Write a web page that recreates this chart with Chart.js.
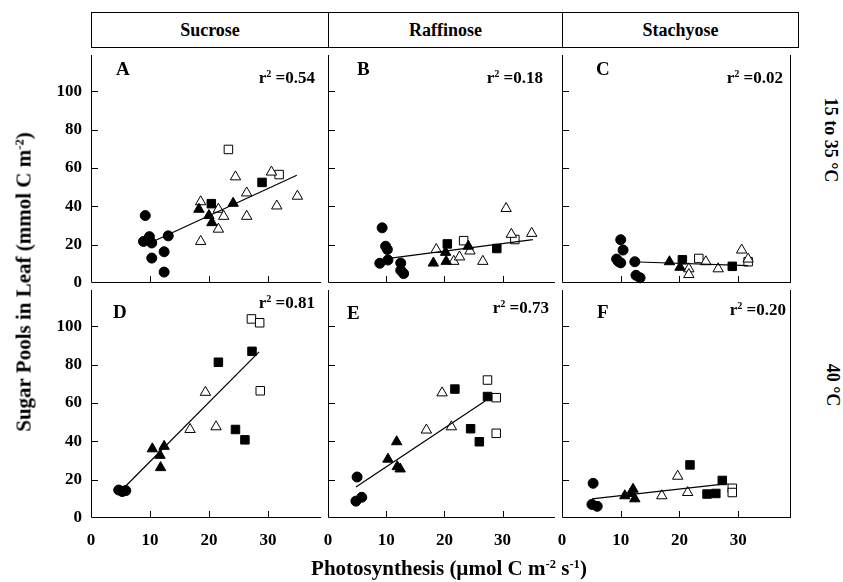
<!DOCTYPE html>
<html>
<head>
<meta charset="utf-8">
<script src="https://cdn.jsdelivr.net/npm/chart.js@4.4.1/dist/chart.umd.min.js"></script>
<style>
body { margin: 0; background: #fff; }
#fig { position: relative; width: 843px; height: 582px; overflow: hidden;
       font-family: "Liberation Serif", "Times New Roman", serif; font-weight: bold; color: #000; }
#fig canvas { position: absolute; }
.hdr { position: absolute; top: 12px; height: 36px; box-sizing: border-box; border: 1px solid #000;
       text-align: center; font-size: 18px; line-height: 34px; }
.txt { position: absolute; white-space: nowrap; line-height: 1; }
.letter { font-size: 19px; }
.rsq { font-size: 17px; transform: translate(-100%, -50%); }
.rsq sup, .ttl sup { font-size: 0.6em; vertical-align: 0.55em; line-height: 0; }
.ttl { font-size: 21px; }
</style>
</head>
<body>
<div id="fig"></div>
<script>
// ---- data: [photosynthesis, sugar pool] ----
// row 1 = 15 to 35 °C, row 2 = 40 °C ; columns = sucrose, raffinose, stachyose
// filled circle / filled triangle / open triangle / filled square / open square / fitted line
const A_circle = [[9.2,35.2],[8.9,21.7],[9.9,24.2],[10.3,20.9],[13.1,24.6],[12.4,16.3],[10.3,13.0],[12.4,5.7]];
const A_triFill = [[18.3,38.5],[20.0,35.2],[20.5,31.5],[24.1,41.6]];
const A_triOpen = [[18.6,42.4],[18.6,21.7],[21.6,38.5],[22.5,34.8],[21.6,28.1],[24.5,55.4],[26.4,47.0],[26.4,34.8],[30.6,57.9],[31.5,40.2],[35.0,45.3]];
const A_sqFill = [[20.4,41.4],[29.0,52.5]];
const A_sqOpen = [[23.3,69.7],[31.9,56.6]];
const A_fit = [[10.9,22.2],[34.9,56.2]];

const B_circle = [[9.3,28.8],[9.9,19.2],[10.2,17.5],[8.9,10.3],[10.3,12.0],[12.5,10.4],[12.5,6.6],[13.0,4.9]];
const B_triFill = [[18.1,10.4],[20.3,11.3],[20.2,16.0],[24.1,19.2]];
const B_triOpen = [[18.6,17.5],[21.6,11.3],[22.6,13.6],[24.4,16.7],[26.6,11.3],[30.6,38.9],[31.5,25.4],[35.0,25.9]];
const B_sqFill = [[20.5,20.4],[29.0,18.0]];
const B_sqOpen = [[23.3,22.1],[32.1,22.7]];
const B_fit = [[10.8,13.0],[35.2,22.6]];

const C_circle = [[10.0,22.6],[10.4,17.2],[9.3,12.5],[10.0,10.5],[9.6,11.2],[12.4,11.1],[12.6,4.0],[13.3,2.7]];
const C_triFill = [[18.3,11.1],[20.1,8.2]];
const C_triOpen = [[21.6,7.4],[21.6,4.4],[24.5,11.1],[26.6,7.4],[30.6,17.2],[31.7,12.5]];
const C_sqFill = [[20.5,12.1],[29.0,8.7]];
const C_sqOpen = [[23.3,12.8],[31.7,11.1]];
const C_fit = [[11.8,11.1],[31.7,9.1]];

const D_circle = [[4.7,14.6],[5.3,13.8],[5.9,14.3]];
const D_triFill = [[10.4,36.1],[12.4,37.4],[11.7,32.7],[11.8,26.3]];
const D_triOpen = [[16.8,46.2],[19.4,65.6],[21.2,47.6]];
const D_sqFill = [[21.6,81.3],[24.5,46.2],[26.1,40.8],[27.3,87.0]];
const D_sqOpen = [[27.2,103.9],[28.6,101.9],[28.7,66.4]];
const D_fit = [[5.6,15.8],[28.5,86.7]];

const E_circle = [[5.0,21.4],[4.8,8.8],[5.8,10.8]];
const E_triFill = [[10.3,30.7],[11.8,39.8],[11.9,26.8],[12.4,25.6]];
const E_triOpen = [[16.9,45.9],[19.6,65.3],[21.2,47.6]];
const E_sqFill = [[21.8,67.3],[24.5,46.6],[26.0,39.8],[27.4,63.4]];
const E_sqOpen = [[27.4,72.0],[28.9,62.8],[28.9,44.2]];
const E_fit = [[4.8,16.2],[27.0,61.1]];

const F_circle = [[5.3,18.1],[5.1,7.1],[6.0,6.1]];
const F_triFill = [[10.7,11.6],[12.1,15.0],[12.4,10.0],[11.7,12.8]];
const F_triOpen = [[17.0,11.6],[19.7,21.8],[21.4,13.3]];
const F_sqFill = [[21.8,27.7],[24.7,12.5],[26.2,12.8],[27.3,19.6]];
const F_sqOpen = [[29.0,15.5],[29.0,13.3]];
const F_fit = [[5.1,10.0],[28.2,17.9]];

const sugars = ["Sucrose", "Raffinose", "Stachyose"];
const temps = ["15 to 35 \u00b0C", "40 \u00b0C"];
const letters = ["A", "B", "C", "D", "E", "F"];
const rSquared = ["0.54", "0.18", "0.02", "0.81", "0.73", "0.20"];
const xTicks = [0, 10, 20, 30];
const yTicks = [0, 20, 40, 60, 80, 100];

// ---- layout (pixels) ----
const colLeft = [91, 328, 562];
const colRight = [328, 562, 798];
const rowTop = [48, 283];
const rowBottom = [283, 518];
const YW = 60, XH = 40;   // room kept for tick labels

const fig = document.getElementById("fig");

// header boxes
sugars.forEach((s, c) => {
    let d = document.createElement("div");
    d.className = "hdr";
    d.style.left = colLeft[c] + "px";
    d.style.width = (colRight[c] - colLeft[c] + 1) + "px";
    d.textContent = s;
    fig.appendChild(d);
});

// frame + inward tick marks
const framePlugin = {
    id: "frame",
    afterDraw(chart, args, opts) {
        const { ctx, chartArea: a, scales: { x, y } } = chart;
        ctx.save();
        ctx.strokeStyle = "#000";
        ctx.lineWidth = 1;
        ctx.beginPath();
        ctx.moveTo(a.left + 0.5, a.top);
        ctx.lineTo(a.left + 0.5, a.bottom - 0.5);
        ctx.lineTo(a.right, a.bottom - 0.5);
        if (opts.right) {
            ctx.moveTo(a.right - 0.5, a.top);
            ctx.lineTo(a.right - 0.5, a.bottom);
        }
        x.ticks.forEach(t => {
            if (t.value === 0) return;
            let px = Math.round(x.getPixelForValue(t.value)) + 0.5;
            ctx.moveTo(px, a.bottom);
            ctx.lineTo(px, a.bottom - 7);
        });
        y.ticks.forEach(t => {
            if (t.value === 0) return;
            let py = Math.round(y.getPixelForValue(t.value)) + 0.5;
            ctx.moveTo(a.left, py);
            ctx.lineTo(a.left + 7, py);
        });
        ctx.stroke();
        ctx.restore();
    }
};

function pts(arr) { return arr.map(p => ({ x: p[0], y: p[1] })); }

function marker(label, data, style, filled, radius) {
    return {
        label: label,
        data: pts(data),
        pointStyle: style,
        pointRadius: radius,
        pointBackgroundColor: filled ? "#000" : "#fff",
        pointBorderColor: "#000",
        pointBorderWidth: 1,
        showLine: false,
        clip: false
    };
}

const panelData = [
    [A_circle, A_triFill, A_triOpen, A_sqFill, A_sqOpen, A_fit],
    [B_circle, B_triFill, B_triOpen, B_sqFill, B_sqOpen, B_fit],
    [C_circle, C_triFill, C_triOpen, C_sqFill, C_sqOpen, C_fit],
    [D_circle, D_triFill, D_triOpen, D_sqFill, D_sqOpen, D_fit],
    [E_circle, E_triFill, E_triOpen, E_sqFill, E_sqOpen, E_fit],
    [F_circle, F_triFill, F_triOpen, F_sqFill, F_sqOpen, F_fit]
];

const tickFont = { family: "'Liberation Serif', 'Times New Roman', serif", size: 17, weight: "bold" };

panelData.forEach((sets, i) => {
    const r = Math.floor(i / 3), c = i % 3;
    const w = colRight[c] - colLeft[c], h = rowBottom[r] - rowTop[r];
    const cv = document.createElement("canvas");
    cv.width = w + YW;
    cv.height = h + XH;
    cv.style.left = (colLeft[c] - YW) + "px";
    cv.style.top = rowTop[r] + "px";
    fig.appendChild(cv);

    new Chart(cv, {
        type: "scatter",
        data: {
            datasets: [
                {
                    label: "fit",
                    data: pts(sets[5]),
                    showLine: true,
                    borderColor: "#000",
                    borderWidth: 1.2,
                    pointRadius: 0,
                    clip: false
                },
                marker("filled circle", sets[0], "circle", true, 5),
                marker("filled triangle", sets[1], "triangle", true, 6),
                marker("open triangle", sets[2], "triangle", false, 6),
                marker("filled square", sets[3], "rect", true, 6),
                marker("open square", sets[4], "rect", false, 6)
            ]
        },
        options: {
            responsive: false,
            animation: false,
            layout: { padding: 0 },
            plugins: {
                legend: { display: false },
                tooltip: { enabled: false },
                frame: { right: c === 2 }
            },
            scales: {
                x: {
                    type: "linear",
                    min: 0,
                    max: 39,
                    afterBuildTicks: s => { s.ticks = xTicks.map(v => ({ value: v })); },
                    afterFit: s => { s.height = XH; s.paddingLeft = 0; s.paddingRight = 0; },
                    grid: { display: false, drawTicks: false },
                    border: { display: false },
                    ticks: {
                        display: r === 1,
                        autoSkip: false,
                        maxRotation: 0,
                        padding: 12,
                        color: "#000",
                        font: tickFont
                    }
                },
                y: {
                    type: "linear",
                    min: 0,
                    max: 119,
                    afterBuildTicks: s => { s.ticks = yTicks.map(v => ({ value: v })); },
                    afterFit: s => { s.width = YW; s.paddingTop = 0; s.paddingBottom = 0; },
                    grid: { display: false, drawTicks: false },
                    border: { display: false },
                    ticks: {
                        display: c === 0,
                        padding: 9,
                        color: "#000",
                        font: tickFont
                    }
                }
            }
        },
        plugins: [framePlugin]
    });
});

// panel letters and r² labels
const letterPos = [[116, 59], [357, 59], [596, 59], [113, 302], [347, 303], [597, 302]];
const rsqPos = [[315, 77], [543, 77], [783, 77], [315, 302], [549, 307], [786, 309]];
letters.forEach((L, i) => {
    let d = document.createElement("div");
    d.className = "txt letter";
    d.style.left = letterPos[i][0] + "px";
    d.style.top = letterPos[i][1] + "px";
    d.textContent = L;
    fig.appendChild(d);

    let q = document.createElement("div");
    q.className = "txt rsq";
    q.style.left = rsqPos[i][0] + "px";
    q.style.top = rsqPos[i][1] + "px";
    q.innerHTML = "r<sup>2</sup> =" + rSquared[i];
    fig.appendChild(q);
});

// temperature labels on the right
const tempPos = [[831, 140], [833, 385]];
temps.forEach((t, i) => {
    let d = document.createElement("div");
    d.className = "txt ttl";
    d.style.fontSize = "18px";
    d.style.left = tempPos[i][0] + "px";
    d.style.top = tempPos[i][1] + "px";
    d.style.transform = "translate(-50%, -50%) rotate(90deg)";
    d.textContent = t;
    fig.appendChild(d);
});

// axis titles
let yt = document.createElement("div");
yt.className = "txt ttl";
yt.style.left = "24px";
yt.style.top = "282px";
yt.style.transform = "translate(-50%, -50%) rotate(-90deg)";
yt.innerHTML = "Sugar Pools in Leaf (mmol C m<sup>-2</sup>)";
fig.appendChild(yt);

let xt = document.createElement("div");
xt.className = "txt ttl";
xt.style.left = "449px";
xt.style.top = "568px";
xt.style.transform = "translate(-50%, -50%)";
xt.innerHTML = "Photosynthesis (\u00b5mol C m<sup>-2</sup> s<sup>-1</sup>)";
fig.appendChild(xt);
</script>
</body>
</html>
